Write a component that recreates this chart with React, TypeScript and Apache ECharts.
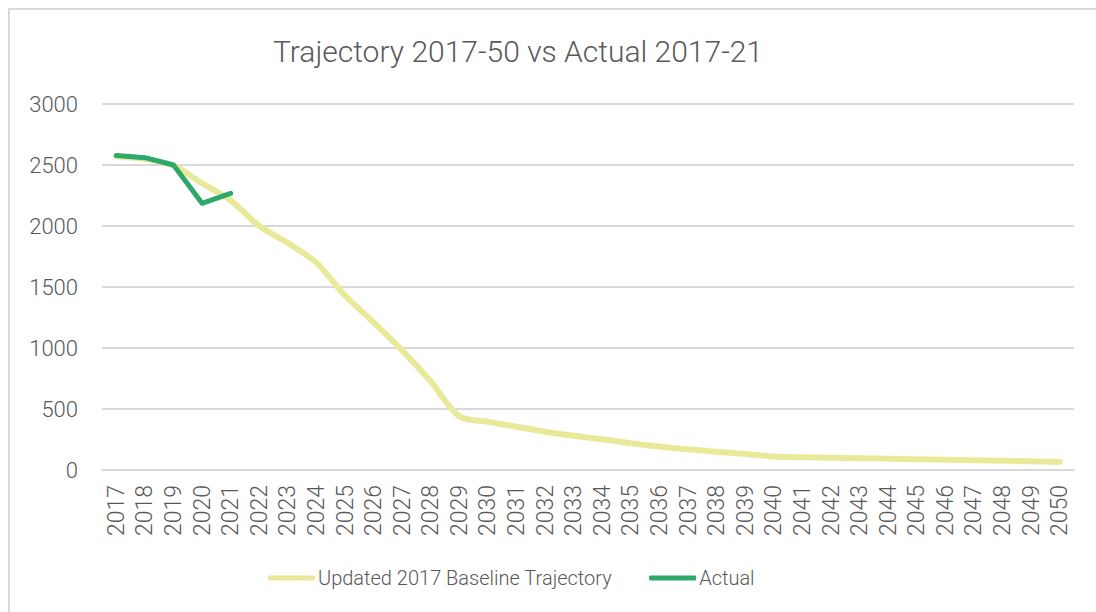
import React, { useEffect, useRef } from "react";
import * as echarts from "echarts";

const years: string[] = [
  "2017","2018","2019","2020","2021","2022","2023","2024","2025","2026","2027","2028",
  "2029","2030","2031","2032","2033","2034","2035","2036","2037","2038","2039","2040",
  "2041","2042","2043","2044","2045","2046","2047","2048","2049","2050",
];

const baseline: number[] = [
  2570, 2550, 2495, 2350, 2210, 2000, 1860, 1700, 1430, 1210, 980, 725,
  440, 396, 355, 314, 280, 252, 220, 192, 170, 150, 132, 110,
  104, 100, 96, 92, 88, 84, 80, 76, 71, 66,
];

const actual: (number | null)[] = [
  2578, 2560, 2500, 2186, 2268, null, null, null, null, null, null, null,
  null, null, null, null, null, null, null, null, null, null, null, null,
  null, null, null, null, null, null, null, null, null, null,
];

const yTicks = { min: 0, max: 3000, interval: 500 };

const FONT = "Roboto";
const TXT = "#595959";

export default function App() {
  const ref = useRef<HTMLDivElement>(null);
  useEffect(() => {
    if (!ref.current) return;
    const chart = echarts.init(ref.current, null, { renderer: "svg" });
    chart.setOption({
      animation: false,
      backgroundColor: "#ffffff",
      title: {
        text: "Trajectory 2017-50 vs Actual 2017-21",
        left: 268,
        top: 31,
        textStyle: { fontFamily: FONT, fontWeight: 300, fontSize: 30, color: TXT },
      },
      graphic: [
        {
          type: "rect",
          shape: { x: 9, y: 9, width: 1200, height: 700 },
          style: { fill: "none", stroke: "#d9d9d9", lineWidth: 2 },
          silent: true,
        },
      ],
      legend: {
        bottom: 19,
        left: 263,
        itemWidth: 47,
        itemHeight: 5,
        itemGap: 37,
        icon: "roundRect",
        textStyle: { fontFamily: FONT, fontWeight: 300, fontSize: 20, color: TXT, padding: [0, 0, 0, -2] },
        data: [
          { name: "Updated 2017 Baseline Trajectory", itemStyle: { color: "#e8ea9a" } },
          { name: "Actual", itemStyle: { color: "#2ea86b" } },
        ],
      },
      grid: { left: 102, right: 22, top: 104, bottom: 142, containLabel: false },
      xAxis: {
        type: "category",
        data: years,
        boundaryGap: true,
        axisLine: { show: true, lineStyle: { color: "#d9d9d9", width: 2 } },
        axisTick: { show: false },
        axisLabel: {
          rotate: 90,
          interval: 0,
          margin: 15,
          fontFamily: FONT,
          fontWeight: 300,
          fontSize: 23,
          color: TXT,
        },
      },
      yAxis: {
        type: "value",
        min: yTicks.min,
        max: yTicks.max,
        interval: yTicks.interval,
        axisLine: { show: false },
        axisTick: { show: false },
        splitLine: { lineStyle: { color: "#d9d9d9", width: 2 } },
        axisLabel: {
          margin: 24,
          fontFamily: FONT,
          fontWeight: 300,
          fontSize: 22,
          color: TXT,
          formatter: (v: number) => String(v),
        },
      },
      series: [
        {
          name: "Updated 2017 Baseline Trajectory",
          type: "line",
          data: baseline,
          smooth: 0.3,
          symbol: "none",
          lineStyle: { color: "#e8ea9a", width: 6, cap: "round" },
          itemStyle: { color: "#e8ea9a" },
        },
        {
          name: "Actual",
          type: "line",
          data: actual,
          symbol: "none",
          connectNulls: false,
          lineStyle: { color: "#2ea86b", width: 5, cap: "round", join: "round" },
          itemStyle: { color: "#2ea86b" },
        },
      ],
    });
    return () => chart.dispose();
  }, []);
  return (
    <div
      ref={ref}
      style={{ position: "absolute", left: 0, top: 0, width: 1096, height: 612 }}
    />
  );
}
